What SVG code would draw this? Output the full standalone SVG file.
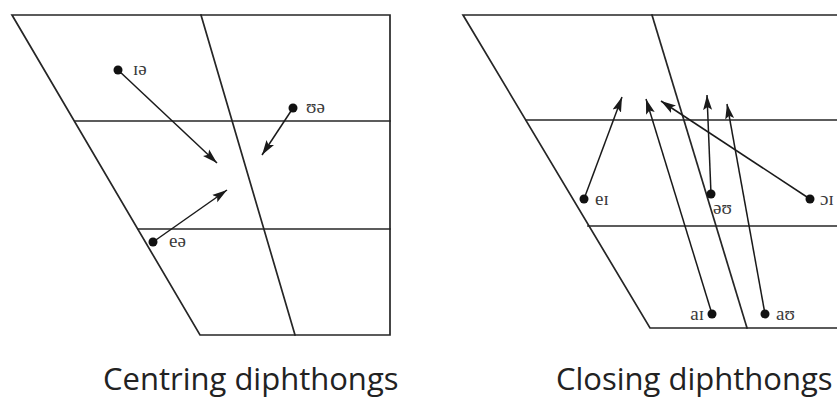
<svg xmlns="http://www.w3.org/2000/svg" width="837" height="402" viewBox="0 0 837 402">
<defs>
<marker id="ah" markerUnits="userSpaceOnUse" markerWidth="16" markerHeight="10" viewBox="0 0 16 10" refX="15" refY="5" orient="auto">
<path d="M0,0.5 L15,5 L0,9.5 L3,5 Z" fill="#1a1a1a"/>
</marker>
</defs>
<style>
.frame{stroke:#262626;stroke-width:1.7;fill:none;stroke-linecap:square}
.arr{stroke:#1a1a1a;stroke-width:1.5;fill:none;marker-end:url(#ah)}
.dot{fill:#111}
.lbl{font-family:"Liberation Serif","DejaVu Serif",serif;font-size:19px;fill:#3a3a3a}
.title{font-family:"Open Sans","Noto Sans",sans-serif;font-size:31px;fill:#222}
</style>
<g id="chart-centring">
<path class="frame" d="M12,15 L390,15 L390,335 L200,335 Z"/>
<line class="frame" x1="201" y1="15" x2="295" y2="335"/>
<line class="frame" x1="75" y1="121" x2="390" y2="121"/>
<line class="frame" x1="138" y1="229" x2="390" y2="229"/>
</g>
<g id="chart-closing">
<path class="frame" d="M840,15 L463,15 L650,328 L840,328"/>
<line class="frame" x1="652" y1="15" x2="747" y2="328"/>
<line class="frame" x1="526" y1="120" x2="840" y2="120"/>
<line class="frame" x1="588" y1="226" x2="840" y2="226"/>
</g>
<g id="connectors">
<line class="arr" x1="118" y1="70" x2="217" y2="163"/>
<line class="arr" x1="293" y1="108" x2="262" y2="155"/>
<line class="arr" x1="153" y1="242" x2="227" y2="190"/>
<line class="arr" x1="584" y1="199" x2="622" y2="97"/>
<line class="arr" x1="712" y1="314" x2="646" y2="99"/>
<line class="arr" x1="810" y1="199" x2="661" y2="101"/>
<line class="arr" x1="711" y1="194" x2="707" y2="95"/>
<line class="arr" x1="765" y1="314" x2="727" y2="104"/>
</g>
<g id="node-ie"><circle class="dot" cx="118" cy="70" r="4.5"/><text class="lbl" x="133" y="75">ɪə</text></g>
<g id="node-ue"><circle class="dot" cx="293" cy="108" r="4.5"/><text class="lbl" x="306" y="113">ʊə</text></g>
<g id="node-ee"><circle class="dot" cx="153" cy="242" r="4.5"/><text class="lbl" x="169" y="247">eə</text></g>
<g id="node-ei"><circle class="dot" cx="584" cy="199" r="4.5"/><text class="lbl" x="595" y="205">eɪ</text></g>
<g id="node-eu"><circle class="dot" cx="711" cy="194" r="4.5"/><text class="lbl" x="713" y="214">əʊ</text></g>
<g id="node-oi"><circle class="dot" cx="810" cy="199" r="4.5"/><text class="lbl" x="820" y="205">ɔɪ</text></g>
<g id="node-ai"><circle class="dot" cx="712" cy="314" r="4.5"/><text class="lbl" x="704" y="320" text-anchor="end">aɪ</text></g>
<g id="node-au"><circle class="dot" cx="765" cy="314" r="4.5"/><text class="lbl" x="776" y="320">aʊ</text></g>
<g id="titles">
<text class="title" x="103" y="390">Centring diphthongs</text>
<text class="title" x="556" y="390">Closing diphthongs</text>
</g>
</svg>
